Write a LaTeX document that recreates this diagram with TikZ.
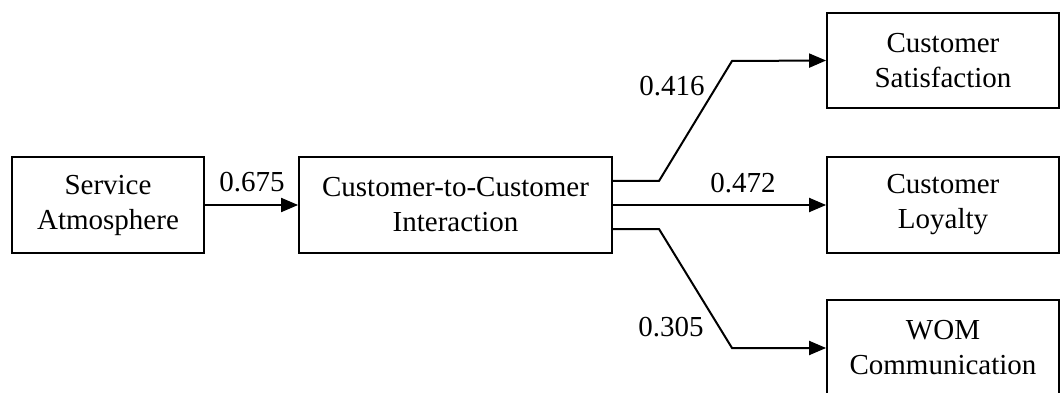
\documentclass[tikz,border=0pt]{standalone}
\usepackage{fontspec}
\setmainfont{Liberation Serif}
\usetikzlibrary{arrows.meta}
\begin{document}
\begin{tikzpicture}[x=1pt,y=-1pt,
  box/.style={draw, line width=1.8pt, inner sep=0pt, align=center,
    font=\fontsize{29}{35}\selectfont},
  lbl/.style={inner sep=0pt, font=\fontsize{29}{35}\selectfont},
  arr/.style={line width=2pt, -{Triangle[length=17pt,width=14pt]}}]
\useasboundingbox (0,0) rectangle (1061,393);
\node[box, minimum width=192pt, minimum height=96pt] (sa) at (108,205) {Service\\Atmosphere};
\node[box, minimum width=313pt, minimum height=96pt] (cci) at (455.5,205) {Customer-to-Customer\\Interaction};
\node[box, minimum width=232pt, minimum height=95pt] (cs) at (943,60.5) {Customer\\Satisfaction};
\node[box, minimum width=232pt, minimum height=96pt] (cl) at (943,205) {Customer\\Loyalty};
\node[box, minimum width=232pt, minimum height=96pt] (wom) at (943,348) {WOM\\Communication};
\coordinate (u1) at (659,181);
\coordinate (u2) at (732,61);
\coordinate (d1) at (659,229);
\coordinate (d2) at (732,348);
\draw[arr] (sa.east) -- (cci.west);
\draw[arr] (cci.east) -- (cl.west);
\draw[arr] (cci.east |- u1) -- (u1) -- (u2) -- (cs.west);
\draw[arr] (cci.east |- d1) -- (d1) -- (d2) -- (wom.west);
\node[lbl] (l1) at (252,182) {0.675};
\node[lbl] (l2) at (672,86) {0.416};
\node[lbl] (l3) at (743,183) {0.472};
\node[lbl] (l4) at (671,327) {0.305};
\end{tikzpicture}
\end{document}
